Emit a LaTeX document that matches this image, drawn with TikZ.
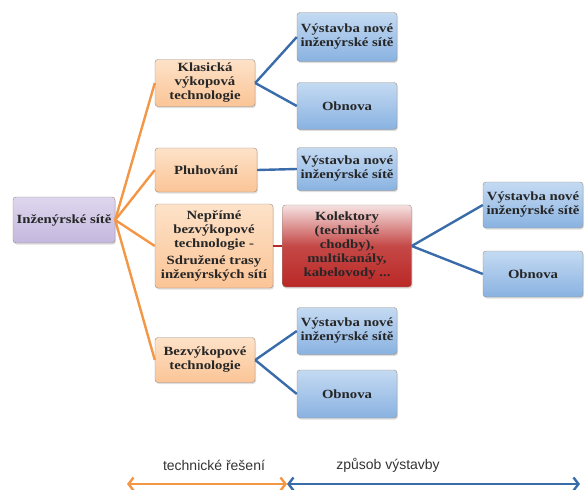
\documentclass[tikz,border=0pt]{standalone}
\usepackage{fontspec}
\setmainfont{Liberation Serif}[FakeStretch=1.18]
\setsansfont{Liberation Sans}
\definecolor{netpurple}{RGB}{196,184,222}
\definecolor{netpurpletop}{RGB}{222,214,238}
\definecolor{techpeach}{RGB}{251,196,150}
\definecolor{techpeachtop}{RGB}{253,226,200}
\definecolor{waysky}{RGB}{137,178,225}
\definecolor{wayskytop}{RGB}{196,218,242}
\definecolor{colred}{RGB}{186,40,38}
\definecolor{colredtop}{RGB}{246,226,226}
\definecolor{lineorange}{RGB}{243,150,70}
\definecolor{lineblue}{RGB}{58,108,170}
\definecolor{linered}{RGB}{184,40,40}
\definecolor{edgegray}{RGB}{150,140,130}
\usetikzlibrary{arrows.meta,shadows}
\tikzset{
  box/.style={draw=edgegray,rounded corners=3pt,align=center,inner sep=1pt,
    font=\bfseries\fontsize{12.5}{14}\selectfont,text=black!85,
    drop shadow={opacity=0.25,shadow xshift=1pt,shadow yshift=-1.5pt}},
  rootbox/.style={box,top color=netpurpletop,bottom color=netpurple,minimum width=102pt,minimum height=46pt},
  techbox/.style={box,top color=techpeachtop,bottom color=techpeach,minimum width=100pt,minimum height=45pt},
  waybox/.style={box,top color=wayskytop,bottom color=waysky,minimum width=100pt,minimum height=46pt},
  colbox/.style={box,top color=colredtop,bottom color=colred,middle color=colred!85,minimum width=129pt,minimum height=82pt},
  techline/.style={draw=lineorange,line width=2.4pt},
  wayline/.style={draw=lineblue,line width=2.4pt},
  colline/.style={draw=linered,line width=2.4pt},
  spanarrow/.style={line width=2.4pt,{Straight Barb[length=5pt,width=13pt]}-{Straight Barb[length=5pt,width=13pt]}},
  spanlabel/.style={font=\sffamily\fontsize{14}{16}\selectfont,text=black!80}
}
\begin{document}
\begin{tikzpicture}[x=1pt,y=-1pt]
  \useasboundingbox (0,0) rectangle (584,490);
  % root
  \node[rootbox] (net) at (64,220) {In\v{z}en\'yrsk\'e s\'it\v{e}};
  % technical solution
  \node[techbox,minimum height=47pt] (klas) at (205,83) {Klasick\'a\\v\'ykopov\'a\\technologie};
  \node[techbox,minimum width=102pt,minimum height=44pt] (pluh) at (206,170) {Pluhov\'an\'i};
  \node[techbox,minimum width=118pt,minimum height=84pt] (neprime) at (214,246)
    {Nep\v{r}\'im\'e\\bezv\'ykopov\'e\\technologie -\\[3pt]Sdru\v{z}en\'e trasy\\in\v{z}en\'yrsk\'ych s\'it\'i};
  \node[techbox] (bezv) at (205,360) {Bezv\'ykopov\'e\\technologie};
  \node[colbox] (kol) at (347,246) {Kolektory\\(technick\'e\\chodby),\\multikan\'aly,\\kabelovody ...};
  % way of construction
  \node[waybox,minimum height=49pt] (vyst1) at (347,37) {V\'ystavba nov\'e\\in\v{z}en\'yrsk\'e s\'it\v{e}};
  \node[waybox,minimum height=47pt] (obn1) at (347,106) {Obnova};
  \node[waybox,minimum height=43pt] (vyst2) at (347,169) {V\'ystavba nov\'e\\in\v{z}en\'yrsk\'e s\'it\v{e}};
  \node[waybox] (vyst3) at (533,205) {V\'ystavba nov\'e\\in\v{z}en\'yrsk\'e s\'it\v{e}};
  \node[waybox] (obn3) at (533,274) {Obnova};
  \node[waybox,minimum height=47pt] (vyst4) at (347,331) {V\'ystavba nov\'e\\in\v{z}en\'yrsk\'e s\'it\v{e}};
  \node[waybox,minimum height=48pt] (obn4) at (347,394) {Obnova};
  % connectors
  \foreach \t in {klas,pluh,neprime,bezv}
    \path[techline] (net.east) -- (\t.west);
  \path[wayline] (klas.east) -- (vyst1.west);
  \path[wayline] (klas.east) -- (obn1.west);
  \path[wayline] (pluh.east) -- (vyst2.west);
  \path[colline] (neprime.east) -- (kol.west);
  \path[wayline] (kol.east) -- (vyst3.west);
  \path[wayline] (kol.east) -- (obn3.west);
  \path[wayline] (bezv.east) -- (vyst4.west);
  \path[wayline] (bezv.east) -- (obn4.west);
  % legend
  \coordinate (spanl) at (127,484);
  \coordinate (spanm) at (287,484);
  \coordinate (spanr) at (580,484);
  \draw[spanarrow,lineorange] (spanl) -- (spanm);
  \draw[spanarrow,lineblue] (spanm) -- (spanr);
  \node[spanlabel] (techlbl) at (214,465) {technick\'e \v{r}e\v{s}en\'i};
  \node[spanlabel] (waylbl) at (388,465) {zp\r{u}sob v\'ystavby};
\end{tikzpicture}
\end{document}
